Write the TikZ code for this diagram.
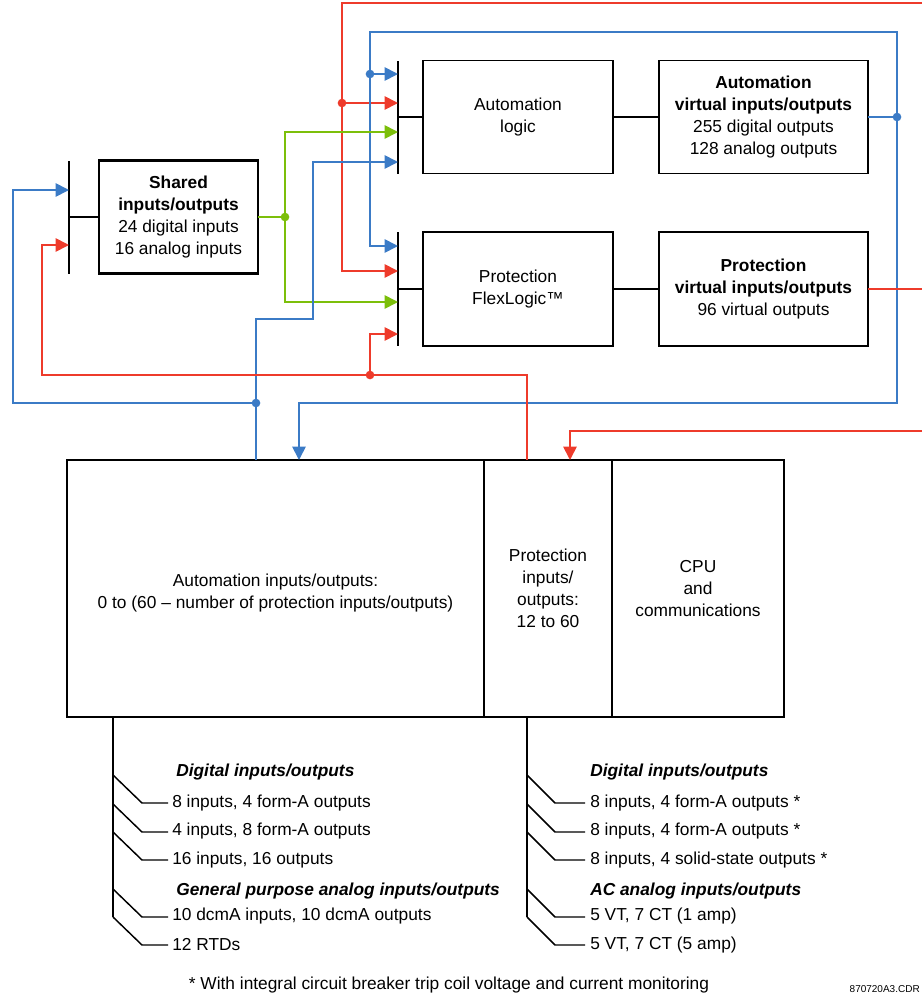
\documentclass[tikz,border=0pt]{standalone}
\usepackage{fontspec}
\setmainfont{Liberation Sans}
\usetikzlibrary{arrows.meta,positioning,calc}
\definecolor{IoBlue}{HTML}{3B7BC6}
\definecolor{IoRed}{HTML}{EE3B2B}
\definecolor{IoGreen}{HTML}{7CBF0A}
\tikzset{
  block/.style={draw=black,line width=1.4pt,align=center,inner sep=0pt,outer sep=0pt,
    minimum width=142.5pt,minimum height=84.75pt,
    font=\fontsize{13}{16.5}\selectfont},
  wideblock/.style={block,minimum width=156.75pt},
  sharedbox/.style={block,line width=2pt,minimum width=119.25pt},
  bus/.style={line width=1.5pt,draw=black},
  branch/.style={line width=1.1pt,draw=black},
  item/.style={anchor=west,inner sep=0pt,font=\fontsize{13}{16}\selectfont},
  head/.style={item,font=\fontsize{13}{16}\selectfont\bfseries\itshape},
  wire/.style={line width=1.3pt},
  arr/.style={-{Triangle[length=10pt,width=10pt]}},
  bwire/.style={wire,draw=IoBlue},
  rwire/.style={wire,draw=IoRed},
  gwire/.style={wire,draw=IoGreen},
  dot/.style={circle,inner sep=0pt,minimum size=6.5pt}
}

\begin{document}
\begin{tikzpicture}[x=0.75pt,y=-0.75pt]
  \useasboundingbox (0,0) rectangle (922,997);
  % logic blocks
  \node[block] (autologic) at (518,117) {Automation\\logic};
  \node[wideblock,right=34.5pt of autologic] (autovirt)
    {\textbf{Automation}\\\textbf{virtual inputs/outputs}\\255 digital outputs\\128 analog outputs};
  \node[block,minimum height=85.5pt,below=43.875pt of autologic] (protlogic) {Protection\\FlexLogic™};
  \node[wideblock,minimum height=85.5pt,right=34.5pt of protlogic] (protvirt)
    {\textbf{Protection}\\\textbf{virtual inputs/outputs}\\96 virtual outputs};
  \node[sharedbox] (shared) at (178.5,217)
    {\textbf{Shared}\\\textbf{inputs/outputs}\\24 digital inputs\\16 analog inputs};
  % hardware
  \node[block,minimum width=312.75pt,minimum height=192.75pt] (autoio) at (275.5,588.5)
    {\\Automation inputs/outputs:\\0 to (60 -- number of protection inputs/outputs)};
  \node[block,minimum width=96pt,minimum height=192.75pt,right=0pt of autoio] (protio)
    {Protection\\inputs/\\outputs:\\12 to 60};
  \node[block,minimum width=129pt,minimum height=192.75pt,right=0pt of protio] (cpu)
    {CPU\\and\\communications};

  % buses
  \draw[bus] (69,161) -- (69,274); \draw[bus] (69,217) -- (shared.west);
  \draw[bus] (398,61) -- (398,174); \draw[bus] (398,117) -- (autologic.west);
  \draw[bus] (398,232) -- (398,346); \draw[bus] (398,289) -- (protlogic.west);
  \draw[bus] (autologic.east) -- (autovirt.west);
  \draw[bus] (protlogic.east) -- (protvirt.west);

  % junctions
  \coordinate (jgreen) at (285,217);
  \coordinate (jbright) at (897,117);
  \coordinate (jbtop) at (370,74);
  \coordinate (jrtop) at (342,103);
  \coordinate (jbleft) at (256,403);
  \coordinate (jrmid) at (370,375);

  \draw[rwire,arr] (922,3) -- (342,3) -- (342,271) -- (398,271);
  \draw[rwire,arr] (jrtop) -- (398,103);
  \draw[bwire] (autovirt.east) -- (jbright);
  \draw[bwire,arr] (jbright) -- (897,32) -- (370,32) -- (370,246) -- (398,246);
  \draw[bwire,arr] (jbtop) -- (398,74);
  \draw[bwire,arr] (jbright) -- (897,403) -- (299,403) -- (299,460);
  \draw[gwire] (shared.east) -- (jgreen);
  \draw[gwire,arr] (jgreen) -- (285,132) -- (398,132);
  \draw[gwire,arr] (jgreen) -- (285,302) -- (398,302);
  \draw[bwire,arr] (256,460) -- (jbleft) -- (13,403) -- (13,190) -- (69,190);
  \draw[bwire,arr] (jbleft) -- (256,319) -- (313,319) -- (313,162) -- (398,162);
  \draw[rwire,arr] (527,460) -- (527,375) -- (42,375) -- (42,245) -- (69,245);
  \draw[rwire,arr] (jrmid) -- (370,334) -- (398,334);
  \draw[rwire] (protvirt.east) -- (922,289);
  \draw[rwire,arr] (922,431) -- (570,431) -- (570,460);

  \node[dot,fill=IoGreen] at (jgreen) {};
  \node[dot,fill=IoBlue] at (jbright) {};
  \node[dot,fill=IoBlue] at (jbtop) {};
  \node[dot,fill=IoRed] at (jrtop) {};
  \node[dot,fill=IoBlue] at (jbleft) {};
  \node[dot,fill=IoRed] at (jrmid) {};

  % module lists
  \draw[bus] (113,717) -- (113,917);
  \draw[bus] (527,717) -- (527,917);
  \foreach \y in {775,804,832,889,917} {
    \draw[branch] (113,\y) -- ++(29,28) -- ++(26,0);
    \draw[branch] (527,\y) -- ++(28,28) -- ++(30,0);
  }
  \node[head] (ahead1) at (176,772) {Digital inputs/outputs};
  \node[head] (ahead2) at (176,891) {General purpose analog inputs/outputs};
  \foreach \y/\t in {803/{8 inputs, 4 form-A outputs},831/{4 inputs, 8 form-A outputs},
      860/{16 inputs, 16 outputs},916/{10 dcmA inputs, 10 dcmA outputs},945/{12 RTDs}}
    \node[item] (al\y) at (172,\y) {\t};
  \node[head] (phead1) at (590,772) {Digital inputs/outputs};
  \node[head] (phead2) at (590,891) {AC analog inputs/outputs};
  \foreach \y/\t in {803/{8 inputs, 4 form-A outputs *},831/{8 inputs, 4 form-A outputs *},
      860/{8 inputs, 4 solid-state outputs *},916/{5 VT, 7 CT (1 amp)},945/{5 VT, 7 CT (5 amp)}}
    \node[item] (pl\y) at (590,\y) {\t};

  \node[item,anchor=center] (note) at (449,985)
    {* With integral circuit breaker trip coil voltage and current monitoring};
  \node[item,anchor=east,font=\fontsize{7.5}{9}\selectfont] (drwid) at (920,989) {870720A3.CDR};
\end{tikzpicture}
\end{document}
